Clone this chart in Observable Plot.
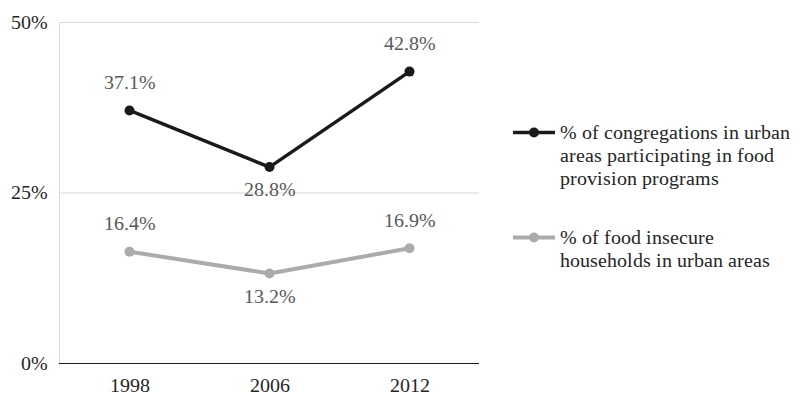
<!DOCTYPE html>
<html>
<head>
<meta charset="utf-8">
<script src="https://cdn.jsdelivr.net/npm/d3@7"></script>
<script src="https://cdn.jsdelivr.net/npm/@observablehq/plot@0.6"></script>
<style>
  @font-face {
    font-family: "ChartSerif";
    src: local("Liberation Serif"), local("LiberationSerif"), local("LiberationSerif-Regular"), local("Tinos"), local("Times New Roman");
  }
  html, body { margin: 0; padding: 0; background: #fff; }
  #wrap, #wrap * { font-family: "ChartSerif", "Liberation Serif", serif !important; }
</style>
</head>
<body>
<div id="wrap" style="position:relative;width:805px;height:396px"></div>
<script>
// Survey years
const years = ["1998", "2006", "2012"];
// % of congregations in urban areas participating in food provision programs
const congregations = [37.1, 28.8, 42.8];
// % of food insecure households in urban areas
const insecure = [16.4, 13.2, 16.9];
// Series names, one entry per legend line
const seriesLabels = [
  ["% of congregations in urban", "areas participating in food", "provision programs"],
  ["% of food insecure", "households in urban areas"]
];
const seriesColors = ["#1a1a1a", "#ababab"];
const yTicks = [0, 25, 50];

const rows = [
  ...years.map((yr, i) => ({year: yr, value: congregations[i], s: 0, below: i === 1})),
  ...years.map((yr, i) => ({year: yr, value: insecure[i], s: 1, below: i === 1}))
];

const font = "ChartSerif, Liberation Serif, serif";

const chart = Plot.plot({
  width: 805,
  height: 396,
  marginLeft: 59,
  marginRight: 326,
  marginTop: 22,
  marginBottom: 33,
  style: {fontFamily: font, background: "transparent"},
  x: {type: "band", domain: years, padding: 0},
  y: {domain: [0, 50]},
  marks: [
    Plot.ruleY([25, 50], {stroke: "#d9d9d9", strokeWidth: 1}),
    Plot.ruleX([years[0]], {x: d => d, dx: -70, y1: 0, y2: 50, stroke: "#d9d9d9", strokeWidth: 1}),
    Plot.ruleY([0], {stroke: "#1a1a1a", strokeWidth: 1.2}),
    Plot.axisY({ticks: yTicks, tickSize: 0, tickPadding: 12, fontSize: 20, fill: "#262626",
      tickFormat: d => d + "%", label: null}),
    Plot.axisX({tickSize: 0, tickPadding: 14, fontSize: 20, fill: "#262626", label: null}),
    Plot.line(rows.filter(d => d.s === 1), {x: "year", y: "value", stroke: seriesColors[1], strokeWidth: 4}),
    Plot.dot(rows.filter(d => d.s === 1), {x: "year", y: "value", fill: seriesColors[1], r: 5}),
    Plot.line(rows.filter(d => d.s === 0), {x: "year", y: "value", stroke: seriesColors[0], strokeWidth: 3.5}),
    Plot.dot(rows.filter(d => d.s === 0), {x: "year", y: "value", fill: seriesColors[0], r: 5}),
    Plot.text(rows.filter(d => !d.below), {x: "year", y: "value", text: d => d.value.toFixed(1) + "%",
      dy: -28, fontSize: 20, fill: "#595959"}),
    Plot.text(rows.filter(d => d.below), {x: "year", y: "value", text: d => d.value.toFixed(1) + "%",
      dy: 23, fontSize: 20, fill: "#595959"})
  ]
});

const wrap = document.getElementById("wrap");
chart.style.position = "absolute";
chart.style.left = "0";
chart.style.top = "0";
wrap.appendChild(chart);

// Legend to the right of the plot
const legendTops = [121, 226];
seriesLabels.forEach((lines, i) => {
  const item = document.createElement("div");
  item.style.cssText = `position:absolute;left:513px;top:${legendTops[i]}px;display:flex;align-items:flex-start`;
  item.innerHTML =
    `<svg width="42" height="23" style="flex:none"><line x1="0" x2="42" y1="11.5" y2="11.5" stroke="${seriesColors[i]}" stroke-width="${i === 0 ? 3.5 : 4}"/>` +
    `<circle cx="21" cy="11.5" r="5" fill="${seriesColors[i]}"/></svg>` +
    `<div style="font-size:20px;line-height:23px;color:#262626;margin-left:5px;white-space:nowrap">${lines.join("<br>")}</div>`;
  wrap.appendChild(item);
});
</script>
</body>
</html>
